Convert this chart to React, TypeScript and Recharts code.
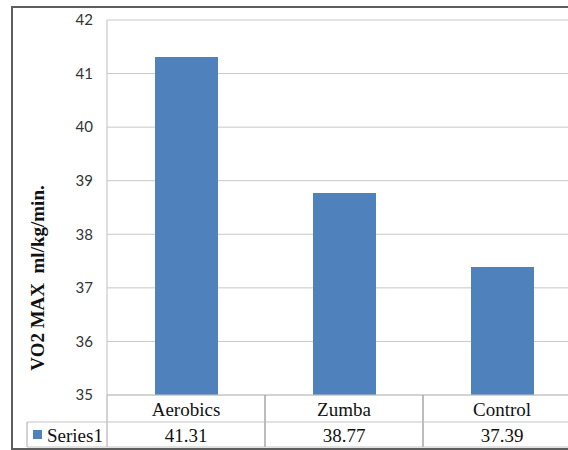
import { BarChart, Bar, XAxis, YAxis, CartesianGrid } from "recharts";

// values
const categories = ["Aerobics", "Zumba", "Control"];
const series1 = [41.31, 38.77, 37.39];
const yTicks = [35, 36, 37, 38, 39, 40, 41, 42];
const seriesName = "Series1";
const yLabel = "VO2 MAX  ml/kg/min.";

const data = categories.map((name, i) => ({ name, value: series1[i] }));

const CHART_W = 600;
const CHART_H = 450;
const MARGIN = { top: 20, right: 19, left: 0, bottom: 2 };
const YAXIS_W = 107;
const XAXIS_H = 53;
const PLOT_BOTTOM = CHART_H - MARGIN.bottom - XAXIS_H;
const BAND = (CHART_W - MARGIN.left - MARGIN.right - YAXIS_W) / categories.length;
const ROW_SPLIT = PLOT_BOTTOM + 27;
const TABLE_BOTTOM = 447;
const HEADER_LEFT = 27;

const serif = "'Liberation Serif', 'Times New Roman', serif";
const serifText = { fontFamily: serif, fontSize: 19 };
const lineColor = "#a6a6a6";
const barColor = "#4f81bd";

const TableTick = (props: any) => {
  const { x, payload, index } = props;
  const left = x - BAND / 2;
  const right = x + BAND / 2;
  const value = series1[index];
  return (
    <g>
      <line x1={left} y1={PLOT_BOTTOM} x2={left} y2={TABLE_BOTTOM} stroke={lineColor} />
      <line x1={right} y1={PLOT_BOTTOM} x2={right} y2={TABLE_BOTTOM} stroke={lineColor} />
      <line x1={left} y1={ROW_SPLIT} x2={right} y2={ROW_SPLIT} stroke="#c4c4c4" />
      <line x1={left} y1={TABLE_BOTTOM} x2={right} y2={TABLE_BOTTOM} stroke="#c4c4c4" />
      <text x={x} y={PLOT_BOTTOM + 21} textAnchor="middle" style={serifText} fill="#111">
        {payload.value}
      </text>
      <text x={x} y={ROW_SPLIT + 20} textAnchor="middle" style={serifText} fill="#111">
        {value.toFixed(2)}
      </text>
      {index === 0 && (
        <g>
          <line x1={HEADER_LEFT} y1={ROW_SPLIT} x2={left} y2={ROW_SPLIT} stroke="#c4c4c4" />
          <line x1={HEADER_LEFT} y1={ROW_SPLIT} x2={HEADER_LEFT} y2={TABLE_BOTTOM} stroke={lineColor} />
          <line x1={HEADER_LEFT} y1={TABLE_BOTTOM} x2={left} y2={TABLE_BOTTOM} stroke="#c4c4c4" />
          <rect x={33} y={ROW_SPLIT + 8} width={9} height={9} fill={barColor} />
          <text x={47} y={ROW_SPLIT + 20} style={serifText} fill="#111">
            {seriesName}
          </text>
        </g>
      )}
    </g>
  );
};

const YLabel = () => (
  <text
    x={0}
    y={0}
    transform="translate(44, 278) rotate(-90)"
    textAnchor="middle"
    fill="#111"
    style={{ fontFamily: serif, fontWeight: "bold", fontSize: 19, whiteSpace: "pre" }}
  >
    {yLabel}
  </text>
);

const App = () => {
  return (
    <div style={{ position: "fixed", left: 0, top: 0, width: 568, height: 450, overflow: "hidden", background: "#fff" }}>
      <div style={{ position: "absolute", left: 0, top: 0 }}>
        <BarChart width={CHART_W} height={CHART_H} data={data} margin={MARGIN} barSize={63}>
          <CartesianGrid vertical={false} stroke="#c8c8c8" />
          <XAxis
            dataKey="name"
            height={XAXIS_H}
            axisLine={{ stroke: "#c4c4c4" }}
            tickLine={false}
            tick={<TableTick />}
            interval={0}
          />
          <YAxis
            type="number"
            domain={[35, 42]}
            ticks={yTicks}
            width={YAXIS_W}
            axisLine={{ stroke: "#bfbfbf" }}
            tickLine={false}
            tickSize={0}
            tickMargin={14}
            tick={{ fontSize: 15, fill: "#333", fontFamily: "Lato, 'Liberation Sans', sans-serif" }}
            label={<YLabel />}
          />
          <Bar dataKey="value" fill={barColor} isAnimationActive={false} />
        </BarChart>
      </div>
      <div
        style={{
          position: "absolute",
          left: 11,
          top: 6,
          width: 620,
          height: 444,
          border: "2px solid #5e5e5e",
          boxSizing: "border-box",
          pointerEvents: "none",
        }}
      />
    </div>
  );
};

export default App;
